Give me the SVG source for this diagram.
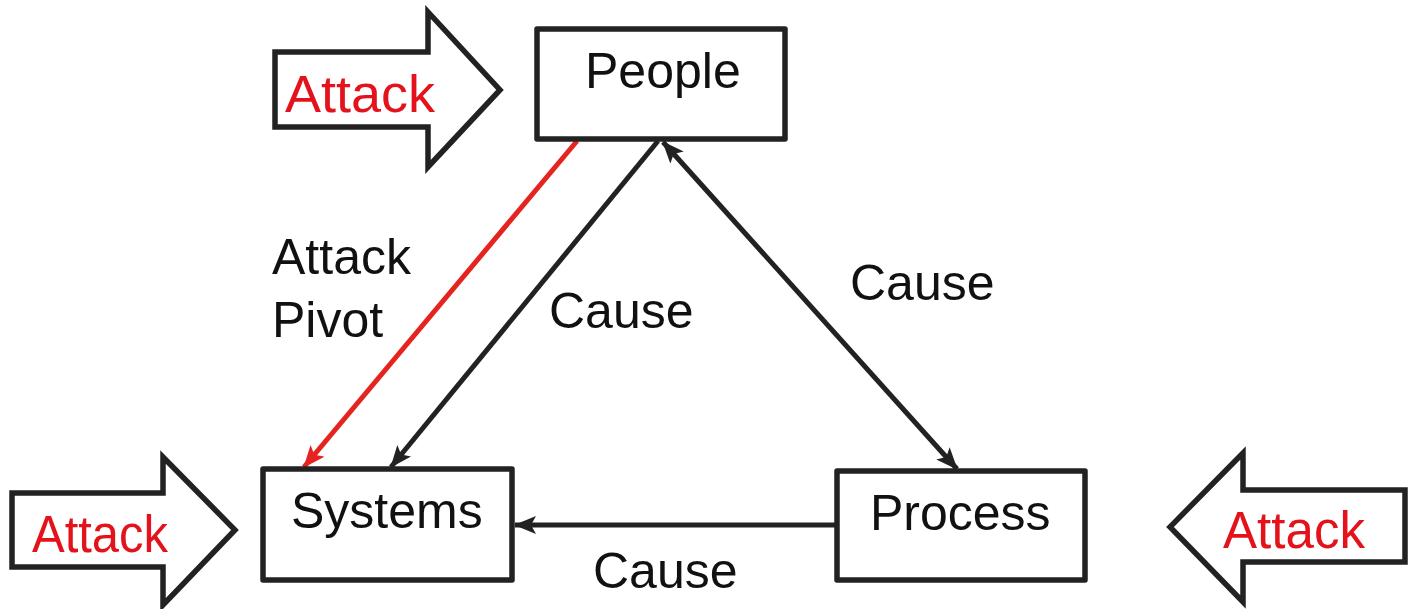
<svg xmlns="http://www.w3.org/2000/svg" width="1411" height="609" viewBox="0 0 1411 609">
<defs>
<style>
.box{fill:#fff;stroke:#222;stroke-width:5.5;stroke-linejoin:round}
.big{fill:#fff;stroke:#222;stroke-width:5.5;stroke-linejoin:miter}
.lbl{font-family:"Liberation Sans",Arial,sans-serif;font-size:50px;fill:#111}
.red{font-family:"Liberation Sans",Arial,sans-serif;font-size:51px;fill:#e3121b}
.conn{fill:none;stroke:#222;stroke-width:5}
.connr{fill:none;stroke:#e52420;stroke-width:5}
</style>
<marker id="ah" viewBox="0 0 22 18" refX="21" refY="9" markerWidth="22" markerHeight="18" markerUnits="userSpaceOnUse" orient="auto-start-reverse">
<path d="M0,0 L22,9 L0,18 L5,9 z" fill="#222"/>
</marker>
<marker id="ahr" viewBox="0 0 22 18" refX="21" refY="9" markerWidth="22" markerHeight="18" markerUnits="userSpaceOnUse" orient="auto">
<path d="M0,0 L22,9 L0,18 L5,9 z" fill="#e52420"/>
</marker>
</defs>
<rect width="1411" height="609" fill="#fff"/>
<g id="connectors">
<line class="connr" x1="577" y1="141" x2="304" y2="467" marker-end="url(#ahr)"/>
<line class="conn" x1="658" y1="141" x2="391" y2="467" marker-end="url(#ah)"/>
<line class="conn" x1="663" y1="142" x2="957" y2="469" marker-start="url(#ah)" marker-end="url(#ah)"/>
<line class="conn" x1="837" y1="525" x2="515" y2="525" marker-end="url(#ah)"/>
<text class="lbl" x="272" y="274">Attack</text>
<text class="lbl" x="272" y="337">Pivot</text>
<text class="lbl" x="549" y="328">Cause</text>
<text class="lbl" x="850" y="300">Cause</text>
<text class="lbl" x="593" y="588">Cause</text>
</g>
<g id="attack-top">
<path class="big" d="M275,52 L428,52 L428,12 L500,90 L428,167 L428,127 L275,127 Z"/>
<text class="red" x="285" y="112" textLength="150" lengthAdjust="spacingAndGlyphs">Attack</text>
</g>
<g id="attack-left">
<path class="big" d="M12,493 L163,493 L163,457 L235,530 L163,605 L163,567 L12,567 Z"/>
<text class="red" x="32" y="552" textLength="136" lengthAdjust="spacingAndGlyphs">Attack</text>
</g>
<g id="attack-right">
<path class="big" d="M1405,490 L1243,490 L1243,453 L1170,527 L1243,602 L1243,562 L1405,562 Z"/>
<text class="red" x="1223" y="548" textLength="142" lengthAdjust="spacingAndGlyphs">Attack</text>
</g>
<g id="people">
<rect class="box" x="537" y="29" width="248" height="110"/>
<text class="lbl" x="585" y="88">People</text>
</g>
<g id="systems">
<rect class="box" x="263" y="469" width="249" height="111"/>
<text class="lbl" x="291" y="528">Systems</text>
</g>
<g id="process">
<rect class="box" x="837" y="471" width="248" height="109"/>
<text class="lbl" x="870" y="530">Process</text>
</g>
</svg>
